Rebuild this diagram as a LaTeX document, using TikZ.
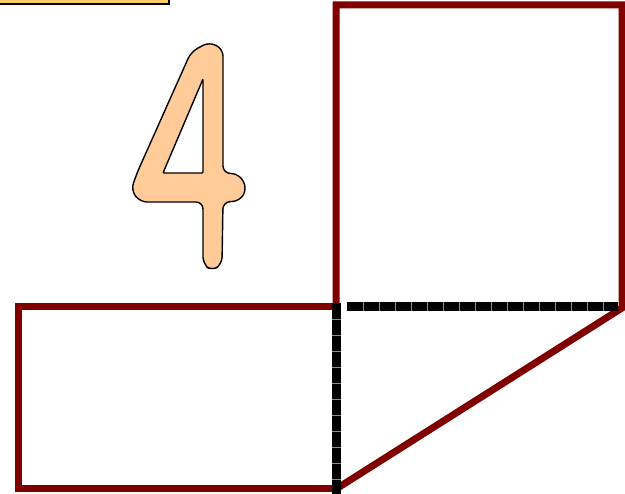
\documentclass[tikz,border=0pt]{standalone}
\usetikzlibrary{calc}
\definecolor{dred}{RGB}{128,0,0}
\definecolor{peach}{RGB}{255,204,153}
\definecolor{sand}{RGB}{255,204,102}
\begin{document}
\begin{tikzpicture}[x=1pt,y=-1pt,
  redline/.style={draw=dred,line width=7pt,line join=miter},
  blackline/.style={draw=black,line width=9pt},
  seps/.style={draw=black!45,line width=9pt,dash pattern=on 0.8pt off 15.2pt}]
\useasboundingbox (0,0) rectangle (625,494);
\path[fill=white] (0,0) rectangle (625,494);
% top-left label box (cut off)
\draw[fill=sand,line width=2pt] (-5,-10) rectangle (169,4);
% digit 4
\draw[fill=peach,line width=1.4pt,even odd rule,rounded corners=7pt]
  (191,52) -- (209,42) -- (223,49) -- (223,173) -- (239,174) -- (247,188) -- (240,201) -- (223,202)
  -- (222,264) -- (212,271) -- (203,264) -- (203,202) -- (140,202) -- (131,190) -- (137,173) -- cycle
  [rounded corners=1pt] (203,79) -- (203,173) -- (163,173) -- cycle;
% coordinates
\coordinate (sqbl) at (336,307);
\coordinate (sqtl) at (336,5);
\coordinate (sqtr) at (622,5);
\coordinate (sqbr) at (622,308);
\coordinate (bot) at (336,489);
\coordinate (rtl) at (18,307);
\coordinate (rbl) at (18,489);
% red shapes
\draw[redline] (sqbl) -- (sqtl) -- (sqtr) -- (sqbr) -- (bot);
\draw[redline] (sqbl) -- (rtl) -- (rbl) -- (bot);
% black segmented fold lines
\coordinate (hd1) at (347,307);
\coordinate (hd2) at (618,307);
\coordinate (vd1) at (336,303);
\coordinate (vd2) at (336,494);
\draw[blackline] (hd1) -- (hd2);
\draw[blackline] (vd1) -- (vd2);
\draw[seps] ($(hd1)+(15.6,0)$) -- ($(hd2)+(-2,0)$);
\draw[seps] ($(vd1)+(0,15.6)$) -- (vd2);
\end{tikzpicture}
\end{document}
